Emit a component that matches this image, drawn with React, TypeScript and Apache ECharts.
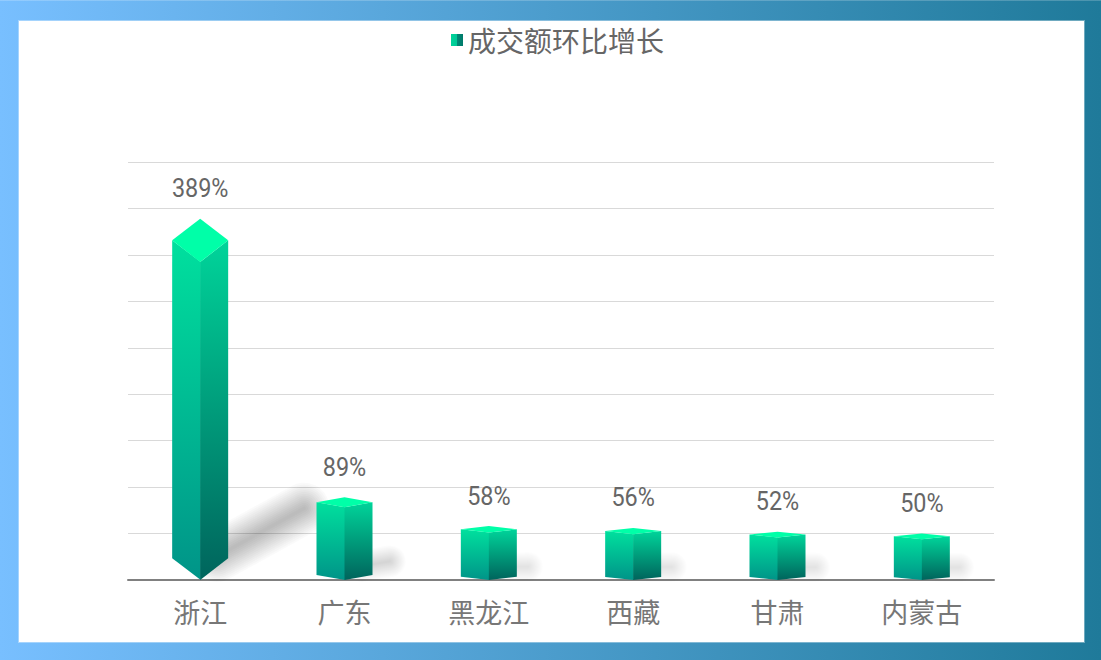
import React, { useEffect, useRef } from "react";
import * as echarts from "echarts";

const categories = ["浙江", "广东", "黑龙江", "西藏", "甘肃", "内蒙古"];
const growth = [389, 89, 58, 56, 52, 50];
const seriesName = "成交额环比增长";

const grad = (a: string, b: string) =>
  new echarts.graphic.LinearGradient(0, 0, 0, 1, [
    { offset: 0, color: a },
    { offset: 1, color: b },
  ]);

const renderItem = (params: any, api: any) => {
  const i = api.value(0);
  const v = api.value(1);
  const [cx, tip] = api.coord([i, v]);
  const [, base] = api.coord([i, 0]);
  const bw = api.size([1, 0])[0] * 0.388;
  const hw = bw / 2;
  const h = base - tip;
  const d = h * 0.06;
  const children: any[] = [];

  // soft cast shadow: a line widened by stacked translucent round strokes
  const reach = h * 0.21;
  const rise = h * 0.19;
  const radius = 13 + h * 0.035;
  const layers = 14;
  for (let k = 0; k < layers; k++) {
    children.push({
      type: "polyline",
      z2: 1,
      shape: {
        points: [
          [cx + hw * 0.6, base - radius + 2],
          [cx + hw + reach, base - Math.max(rise + 3, radius - 2)],
        ],
      },
      style: {
        fill: "none",
        stroke: "#000000",
        lineWidth: (2 * radius * (layers - k)) / layers,
        lineCap: "round",
        opacity: 0.008 + h * 0.00003,
      },
    });
  }

  children.push(
    {
      type: "polygon",
      z2: 10,
      shape: {
        points: [
          [cx - hw, tip + d],
          [cx + 0.6, tip + 2 * d],
          [cx + 0.6, base],
          [cx - hw, base - d],
        ],
      },
      style: { fill: grad("#00e09e", "#009488") },
    },
    {
      type: "polygon",
      z2: 11,
      shape: {
        points: [
          [cx + hw, tip + d],
          [cx, tip + 2 * d],
          [cx, base],
          [cx + hw, base - d],
        ],
      },
      style: { fill: grad("#00d49a", "#00645c") },
    },
    {
      type: "polygon",
      z2: 12,
      shape: {
        points: [
          [cx, tip],
          [cx + hw, tip + d],
          [cx, tip + 2 * d],
          [cx - hw, tip + d],
        ],
      },
      style: { fill: "#00ffa8" },
    },
    {
      type: "text",
      z2: 13,
      x: cx,
      y: tip - 30.5,
      scaleX: 0.9,
      style: {
        text: v + "%",
        fill: "#666666",
        font: '26px Roboto, "Noto Sans", sans-serif',
        align: "center",
        verticalAlign: "middle",
      },
    }
  );
  return { type: "group", children };
};

export default function App() {
  const ref = useRef<HTMLDivElement>(null);
  useEffect(() => {
    document.body.style.margin = "0";
    const chart = echarts.init(ref.current!, null, { renderer: "svg" });
    chart.setOption({
      animation: false,
      backgroundColor: "transparent",
      legend: {
        show: true,
        top: 21,
        left: 446,
        icon: "rect",
        itemWidth: 12,
        itemHeight: 12,
        itemGap: 5,
        data: [seriesName],
        textStyle: {
          fontSize: 28,
          color: "#666666",
          fontFamily: '"Noto Sans CJK SC", sans-serif',
        },
      },
      grid: { left: 128, right: 107, top: 162, bottom: 80 },
      xAxis: {
        type: "category",
        data: categories,
        axisTick: { show: false },
        axisLine: { lineStyle: { color: "#808080", width: 2 } },
        axisLabel: {
          fontSize: 27,
          color: "#777777",
          margin: 18,
          fontFamily: '"Noto Sans CJK SC", sans-serif',
        },
      },
      yAxis: {
        type: "value",
        min: 0,
        max: 450,
        interval: 50,
        axisLabel: { show: false },
        axisTick: { show: false },
        axisLine: { show: false },
        splitLine: { lineStyle: { color: "#d9d9d9", width: 1 } },
      },
      series: [
        {
          type: "custom",
          name: seriesName,
          renderItem,
          clip: false,
          itemStyle: {
            color: new echarts.graphic.LinearGradient(0, 0, 1, 0, [
              { offset: 0, color: "#00d49a" },
              { offset: 0.5, color: "#00c896" },
              { offset: 0.5, color: "#008a76" },
              { offset: 1, color: "#007a6a" },
            ]),
          },
          encode: { x: 0, y: 1 },
          data: growth.map((v, i) => [i, v]),
        },
      ],
    });
    return () => chart.dispose();
  }, []);

  return (
    <div
      style={{
        position: "fixed",
        left: 0,
        top: 0,
        width: 1101,
        height: 660,
        background: "linear-gradient(90deg, #78bfff 0%, #1f7a9a 100%)",
        boxShadow: "inset 0 1px rgba(255,255,255,0.2)",
      }}
    >
      <div
        style={{
          position: "absolute",
          left: 19,
          top: 21,
          width: 1065,
          height: 621,
          background: "#ffffff",
          boxShadow: "0 0 0 1px rgba(255,255,255,0.35)",
        }}
      />
      <div
        ref={ref}
        style={{ position: "absolute", left: 0, top: 0, width: 1101, height: 660 }}
      />
    </div>
  );
}
